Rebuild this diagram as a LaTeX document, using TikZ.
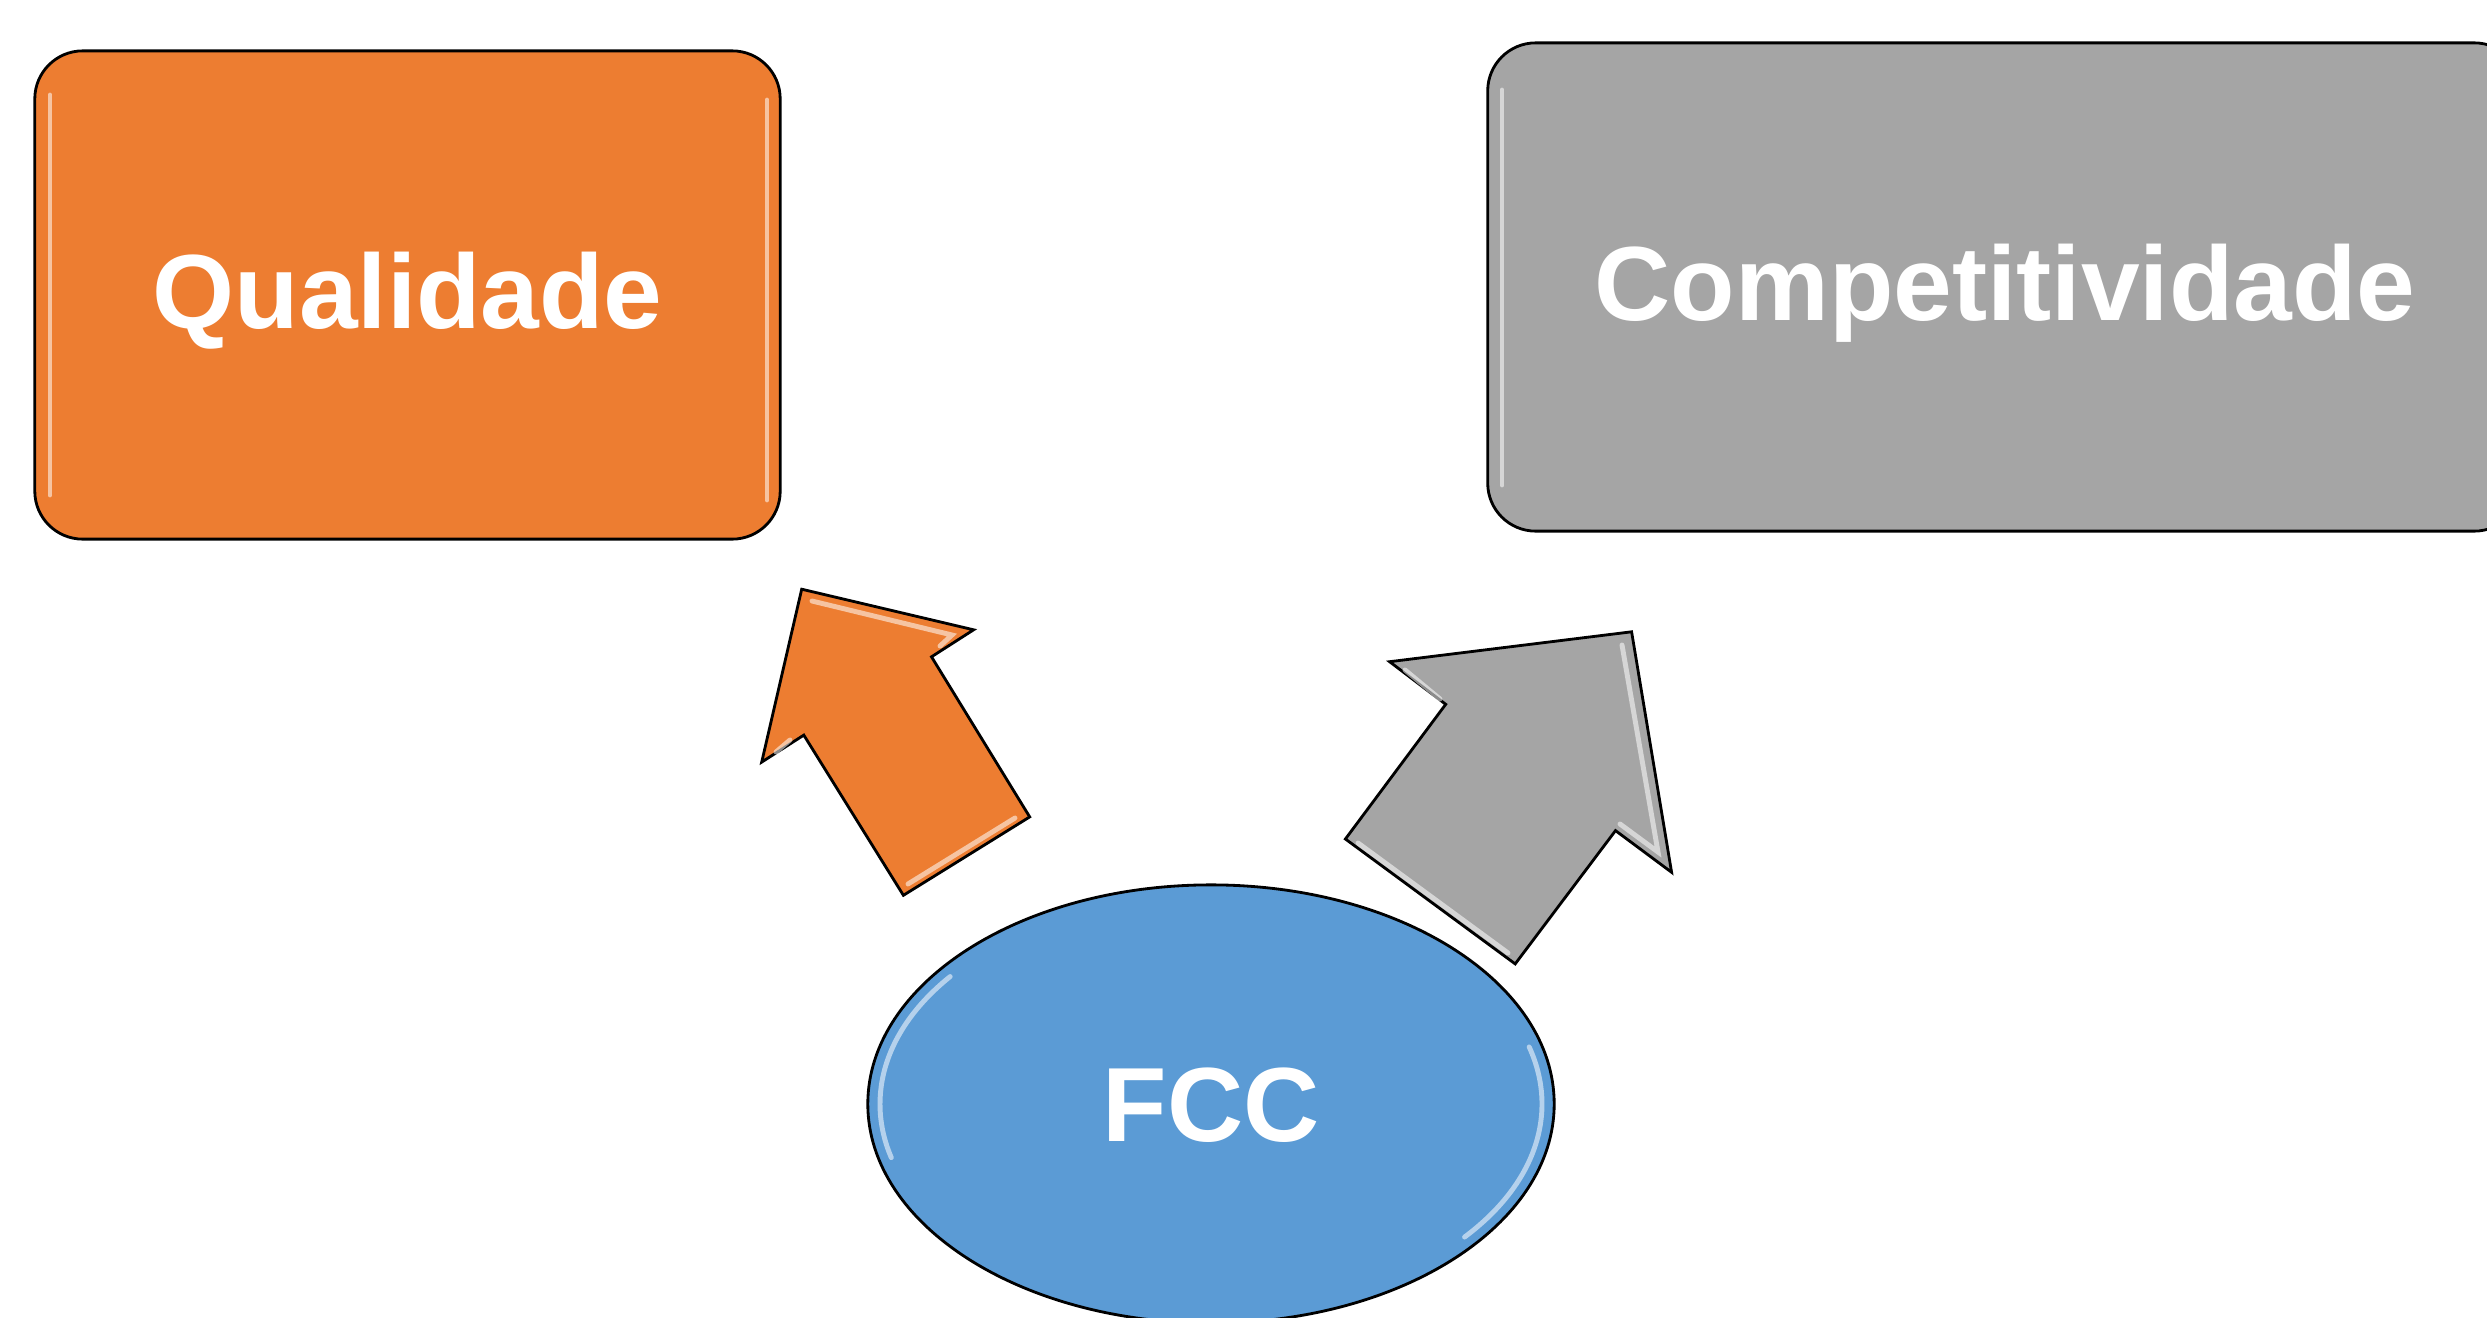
\documentclass[tikz,border=0pt]{standalone}
\usepackage{fontspec}
\setmainfont{Liberation Sans}
\usetikzlibrary{shapes.geometric}
\definecolor{qorange}{HTML}{ED7D31}
\definecolor{cgray}{HTML}{A5A5A5}
\definecolor{fblue}{HTML}{5B9BD5}
\begin{document}
\begin{tikzpicture}[x=0.01cm, y=-0.01cm,
  bigtext/.style={font=\fontsize{30}{36}\selectfont\bfseries, text=white},
  boxnode/.style={bigtext, draw=black, line width=0.8pt, rounded corners=0.48cm,
    inner sep=0pt, text height=21.5pt, text depth=2.5pt},
  blockarrow/.style={draw=black, line width=0.8pt, line join=miter},
  shine/.style={draw=white, line width=1.4pt, opacity=0.55, line cap=round}]
\useasboundingbox (0,0) rectangle (2487,1318);
\clip (0,0) rectangle (2487,1318);

% boxes
\node[boxnode, fill=qorange, minimum width=7.45cm, minimum height=4.88cm] (qual) at (407.5,295) {Qualidade};
\node[boxnode, fill=cgray, minimum width=10.34cm, minimum height=4.88cm] (comp) at (2005,287) {Competitividade};

% box bevel highlights (left and right edges)
\draw[shine] (50,95) -- (50,495);
\draw[shine] (767,100) -- (767,500);
\draw[shine] (1502,90) -- (1502,485);

% ellipse
\node[ellipse, fill=fblue, draw=black, line width=0.8pt, inner sep=0pt,
  minimum width=6.86cm, minimum height=4.38cm, bigtext, text height=21.5pt, text depth=0pt] (fcc) at (1211,1104) {FCC};
\draw[shine] (fcc.center) ++(165:331 and 207) arc[start angle=165, end angle=218, x radius=331, y radius=207];
\draw[shine] (fcc.center) ++(-16:331 and 207) arc[start angle=-16, end angle=40, x radius=331, y radius=207];

% orange block arrow
\filldraw[blockarrow, fill=qorange]
  (801.7,589.2) -- (973.6,629.8) -- (931.5,656.8) -- (1029.7,816.9)
  -- (903.4,895.3) -- (803.8,735.1) -- (761.7,762.1) -- cycle;
\draw[shine] (812,601) -- (952,635) -- (940,646);
\draw[shine] (790,740) -- (776,752);
\draw[shine] (1015,818) -- (908,884);

% gray block arrow
\filldraw[blockarrow, fill=cgray]
  (1389.6,661.7) -- (1631.6,631.8) -- (1671.6,872.3) -- (1615.5,830.6)
  -- (1515.2,963.9) -- (1345.4,839) -- (1445.7,704.3) -- cycle;
\draw[shine] (1622,645) -- (1658,852) -- (1620,824);
\draw[shine] (1405,670) -- (1440,699);
\draw[shine] (1358,843) -- (1508,953);
\end{tikzpicture}
\end{document}
